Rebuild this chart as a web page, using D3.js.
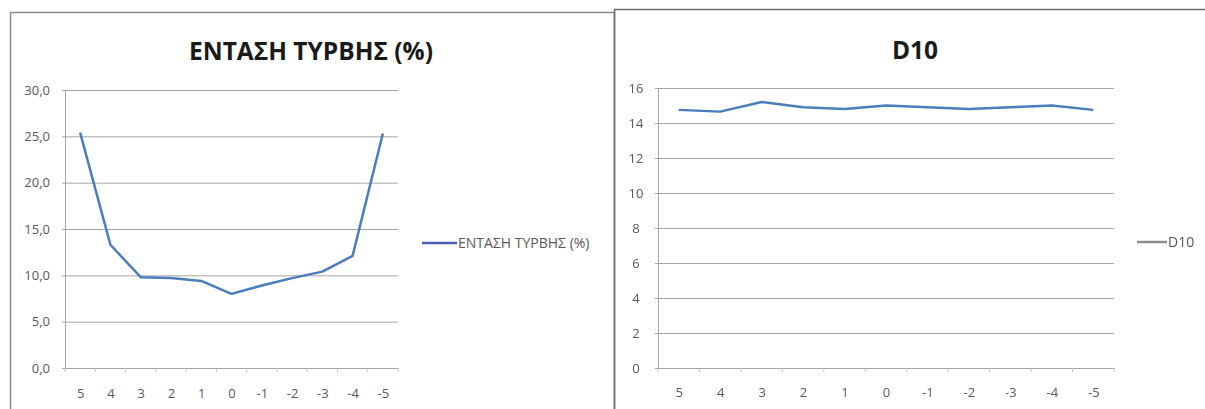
<!DOCTYPE html>
<html>
<head>
<meta charset="utf-8">
<script src="https://cdn.jsdelivr.net/npm/d3@7"></script>
<style>
  html, body { margin: 0; padding: 0; background: #fff; }
  svg { display: block; }
  text { font-family: "Open Sans", "Noto Sans", sans-serif; }
</style>
</head>
<body>
<svg id="chart" width="1205" height="409"></svg>
<script>
// Positions along the traverse (shared by both charts)
const categories = ["5", "4", "3", "2", "1", "0", "-1", "-2", "-3", "-4", "-5"];

// Turbulence intensity (%)
const turbulenceTitle = "ΕΝΤΑΣΗ ΤΥΡΒΗΣ (%)";
const turbulenceValues = [25.4, 13.3, 9.8, 9.7, 9.4, 8.0, 8.9, 9.7, 10.4, 12.1, 25.3];
const turbulenceTicks = [0, 5, 10, 15, 20, 25, 30];

// D10
const d10Title = "D10";
const d10Values = [14.75, 14.65, 15.2, 14.9, 14.8, 15.0, 14.9, 14.8, 14.9, 15.0, 14.75];
const d10Ticks = [0, 2, 4, 6, 8, 10, 12, 14, 16];

const svg = d3.select("#chart");
const blurDefs = svg.append("defs");
blurDefs.append("filter").attr("id", "soft")
  .append("feGaussianBlur").attr("stdDeviation", 0.45);

// Panel frames
svg.append("path")
  .attr("d", "M10.5,409 V12.5 H614.5 V409")
  .attr("fill", "none").attr("stroke", "#8a8a8a").attr("stroke-width", 1.5);
svg.append("path")
  .attr("d", "M614.5,409 V9.5 H1205")
  .attr("fill", "none").attr("stroke", "#6a6a6a").attr("stroke-width", 1.5);

function drawChart(cfg) {
  const g = svg.append("g");
  const x = d3.scalePoint().domain(categories).range([cfg.x0, cfg.x1]).padding(0.5);
  const y = d3.scaleLinear().domain([0, d3.max(cfg.ticks)]).range([cfg.yBottom, cfg.yTop]);

  // Horizontal gridlines + y labels
  const yAxis = d3.axisLeft(y).tickValues(cfg.ticks)
    .tickSize(-(cfg.x1 - cfg.x0)).tickPadding(cfg.yPad).tickFormat(cfg.fmt);
  const ya = g.append("g").attr("transform", `translate(${cfg.x0},0)`).call(yAxis);
  ya.select(".domain").remove();
  ya.selectAll(".tick line").attr("stroke", "#a6a6a6").attr("stroke-width", 1)
    .attr("x1", -3);
  ya.selectAll(".tick text").attr("fill", "#595959").style("font-size", cfg.labelSize + "px")
    .attr("font-family", "\"Open Sans\", sans-serif")
    .attr("text-anchor", cfg.yAnchor).attr("filter", cfg.soft ? "url(#soft)" : null);
  if (cfg.yAnchor === "middle") ya.selectAll(".tick text").attr("x", cfg.yLabelX - cfg.x0);

  // Vertical axis line
  g.append("line").attr("x1", cfg.x0 + 0.5).attr("x2", cfg.x0 + 0.5)
    .attr("y1", cfg.yTop).attr("y2", cfg.yBottom)
    .attr("stroke", "#a6a6a6").attr("stroke-width", 1);

  // Category axis
  const band = (cfg.x1 - cfg.x0) / categories.length;
  const xa = g.append("g").attr("transform", `translate(0,${cfg.yBottom})`)
    .call(d3.axisBottom(x).tickSize(0).tickPadding(cfg.xPad));
  xa.select(".domain").attr("stroke", "#a6a6a6");
  xa.selectAll(".tick text").attr("fill", "#595959").style("font-size", cfg.labelSize + "px")
    .attr("font-family", "\"Open Sans\", sans-serif")
    .attr("filter", cfg.soft ? "url(#soft)" : null);
  g.append("g").selectAll("line")
    .data(d3.range(categories.length + 1))
    .join("line")
    .attr("x1", i => cfg.x0 + i * band).attr("x2", i => cfg.x0 + i * band)
    .attr("y1", cfg.yBottom).attr("y2", cfg.yBottom + 4)
    .attr("stroke", "#c0c0c0");

  // Series line
  const line = d3.line().x((d, i) => x(categories[i])).y(d => y(d));
  g.append("path").datum(cfg.values)
    .attr("d", line).attr("fill", "none")
    .attr("stroke", "#4a7ebb").attr("stroke-width", 2.5)
    .attr("stroke-linejoin", "round");

  // Title
  g.append("text").attr("x", cfg.titleX).attr("y", cfg.titleY)
    .attr("text-anchor", "middle").attr("font-weight", "bold")
    .style("font-size", cfg.titleSize + "px").attr("fill", "#1a1a1a")
    .text(cfg.title);

  // Legend
  g.append("line").attr("x1", cfg.legX).attr("x2", cfg.legX + cfg.legLen)
    .attr("y1", cfg.legY).attr("y2", cfg.legY)
    .attr("stroke", cfg.legColor).attr("stroke-width", 2.5);
  g.append("text").attr("x", cfg.legX + cfg.legLen + 1).attr("y", cfg.legY + 4.5)
    .style("font-size", cfg.legSize + "px").attr("fill", "#595959")
    .attr("filter", cfg.soft ? "url(#soft)" : null)
    .text(cfg.title);
}

drawChart({
  x0: 65, x1: 398, yTop: 90, yBottom: 368,
  ticks: turbulenceTicks, values: turbulenceValues,
  fmt: d => d3.format(".1f")(d).replace(".", ","),
  yPad: 15, yAnchor: "end", labelSize: 13, xPad: 21,
  title: turbulenceTitle, titleX: 311, titleY: 60, titleSize: 24.5,
  legX: 422, legLen: 35, legY: 243, legColor: "#4a5fb0", legSize: 14, soft: false
});

drawChart({
  x0: 658, x1: 1114, yTop: 88, yBottom: 368,
  ticks: d10Ticks, values: d10Values,
  fmt: d3.format("d"),
  yPad: 10, yAnchor: "middle", yLabelX: 636, labelSize: 13, xPad: 20,
  title: d10Title, titleX: 915, titleY: 59, titleSize: 24.5,
  legX: 1137, legLen: 30, legY: 242, legColor: "#8c8c8c", legSize: 14, soft: true
});
</script>
</body>
</html>
